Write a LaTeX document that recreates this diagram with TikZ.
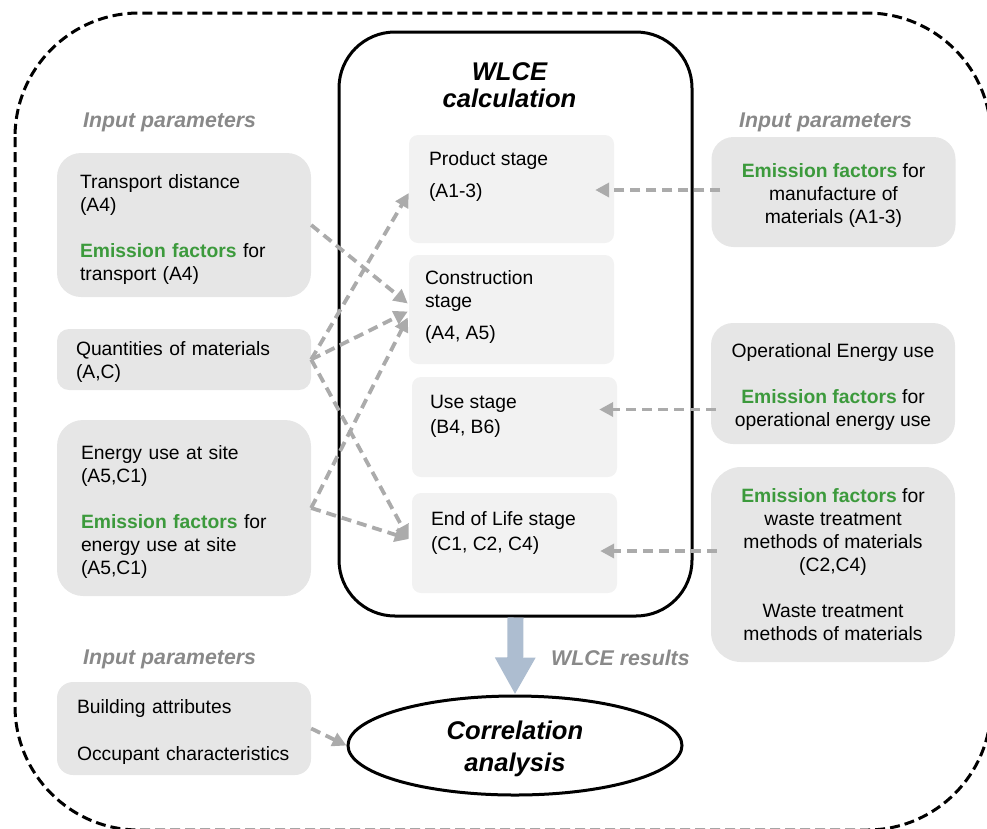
\documentclass[tikz,border=0pt]{standalone}
\usepackage{fontspec}
\setmainfont{Liberation Sans}
\usetikzlibrary{arrows.meta,calc,shapes.geometric}

\definecolor{efgreen}{HTML}{3C9A3C}
\definecolor{boxgray}{HTML}{E6E6E6}
\definecolor{stagegray}{HTML}{F2F2F2}
\definecolor{labgray}{HTML}{898989}
\definecolor{feedgray}{HTML}{ABABAB}
\definecolor{resblue}{HTML}{ADBDD0}
\newcommand{\ef}{\textcolor{efgreen}{\textbf{Emission factors}}}
\newcommand{\topgap}[1]{\rule{0pt}{#1}}

\begin{document}
\begin{tikzpicture}[
        x=1pt,
        y=-1pt,
        body/.style={font=\fontsize{19.3}{23}\selectfont},
        heading/.style={font=\fontsize{25.6}{27}\selectfont\bfseries\itshape},
        textdrop/.style={execute at begin node={\topgap{#1}}},
        inbox/.style={body, fill=boxgray, inner ysep=0pt},
        leftbox/.style={inbox, align=left, minimum height=#1},
        rightbox/.style={inbox, align=center, minimum width=244pt, minimum height=#1},
        stagebox/.style={fill=stagegray, rounded corners=9pt, minimum width=205pt, minimum height=#1},
        stagetxt/.style={body, align=left, inner sep=0pt, anchor=north west},
        inlab/.style={font=\fontsize{21.3}{24}\selectfont\bfseries\itshape, text=labgray, inner sep=0pt, anchor=base west},
        feed/.style={draw=feedgray, line width=3.8pt, dash pattern=on 10pt off 6pt, -{Triangle[length=14pt,width=14pt]}},
        resarrow/.style={draw=resblue, line width=16pt, -{Triangle[length=37pt,width=38pt]}},
        dashframe/.style={line width=3pt, dash pattern=on 10pt off 5pt, rounded corners=124pt}
    ]
        \useasboundingbox (0,0) rectangle (987,828);
        \draw[dashframe] (15,13) rectangle (991,830);

        \node[draw, line width=3pt, rounded corners=56pt, minimum width=353pt, minimum height=584pt] (wlce) at (515.5,324) {};
        \node[heading, align=center, inner sep=0pt, anchor=north] (wlce-t) at ($(wlce.north)+(-6,32)$) {WLCE\\calculation};

        \node[stagebox=108pt] (prod) at (511.5,189) {};
        \node[stagebox=109pt] (cons) at (511.5,309.5) {};
        \node[stagebox=100pt] (use) at (514.5,427) {};
        \node[stagebox=100pt] (eol) at (514.5,543) {};
        \node[stagetxt] (prod-t) at ($(prod.north west)+(20,17)$) {Product stage\\[9pt](A1-3)};
        \node[stagetxt] (cons-t) at ($(cons.north west)+(16,16)$) {Construction\\stage\\[9pt](A4, A5)};
        \node[stagetxt] (use-t) at ($(use.north west)+(18,18.5)$) {Use stage\\[2pt](B4, B6)};
        \node[stagetxt] (eol-t) at ($(eol.north west)+(19,18.5)$) {End of Life stage\\[2pt](C1, C2, C4)};

        \node[leftbox=144pt, textdrop=23pt, rounded corners=24pt, inner xsep=23pt, text width=208pt] (trans) at (184,225)
            {Transport distance\\(A4)\\[23pt]\ef{} for\\transport (A4)};
        \node[leftbox=61pt, textdrop=19pt, rounded corners=12pt, inner xsep=19pt, text width=216pt] (qty) at (184,359.5)
            {Quantities of materials\\(A,C)};
        \node[leftbox=176pt, textdrop=21pt, rounded corners=26pt, inner xsep=24pt, text width=206pt] (site) at (184,508)
            {Energy use at site\\(A5,C1)\\[23pt]\ef{} for\\energy use at site\\(A5,C1)};
        \node[leftbox=93pt, textdrop=20pt, rounded corners=16pt, inner xsep=20pt, text width=214pt] (occ) at (184,728.5)
            {Building attributes\\[24pt]Occupant characteristics};

        \node[rightbox=110pt, rounded corners=22pt] (mfg) at (833.5,192)
            {\topgap{20pt}\ef{} for\\manufacture of\\materials (A1-3)};
        \node[rightbox=121pt, rounded corners=22pt] (oper) at (833,383.5)
            {\topgap{21pt}Operational Energy use\\[23pt]\ef{} for\\operational energy use};
        \node[rightbox=195pt, rounded corners=30pt] (waste) at (833,564.5)
            {\ef{} for\\waste treatment\\methods of materials\\(C2,C4)\\[23pt]Waste treatment\\methods of materials};

        \foreach \n/\lx/\ly in {inl/83/127, inr/739/127, inb/83/664}
            \node[inlab] (\n) at (\lx,\ly) {Input parameters};
        \node[inlab] (res) at (551,665) {WLCE results};

        \node[ellipse, draw, line width=3pt, minimum width=334pt, minimum height=99pt, align=center,
            font=\fontsize{25.6}{32}\selectfont\bfseries\itshape] (corr) at (515,745.5) {\topgap{25pt}Correlation\\analysis};

        \draw[feed] (trans.east) -- ($(cons.west)+(-1,-6)$);
        \draw[feed] (qty.east) -- ($(prod.west)+(0,4)$);
        \draw[feed] (qty.east) -- ($(cons.west)+(-1,2)$);
        \draw[feed] (qty.east) -- ($(eol.west)+(-3,-4)$);
        \draw[feed] (site.east) -- ($(cons.west)+(-1,8)$);
        \draw[feed] (site.east) -- ($(eol.west)+(-3,-4)$);
        \draw[feed] ($(mfg.west)+(9,-2)$) -- ($(prod.east)+(-19,1)$);
        \draw[feed] ($(oper.west)+(5,26)$) -- ($(use.east)+(-18,-17.5)$);
        \draw[feed] ($(waste.west)+(6,-13.5)$) -- ($(eol.east)+(-17,8)$);
        \draw[feed] (occ.east) -- (corr.west);
        \draw[resarrow] (wlce.south) -- (corr.north);
    \end{tikzpicture}
\end{document}
